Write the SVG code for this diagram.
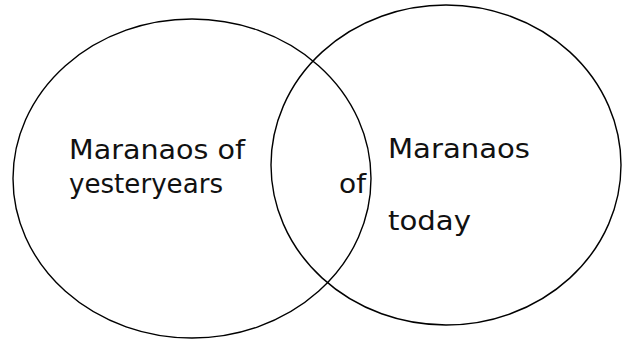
<svg xmlns="http://www.w3.org/2000/svg" width="622" height="339" viewBox="0 0 622 339">
<style>
.set{fill:none;stroke:#000;stroke-width:1.4}
.lbl{font-family:"DejaVu Sans","Liberation Sans",sans-serif;font-size:26px;fill:#111}
</style>
<rect width="622" height="339" fill="#fff"/>
<g id="set-yesteryears">
<ellipse class="set" cx="192" cy="178.5" rx="179" ry="159.5"/>
<text class="lbl" x="69" y="159" textLength="176" lengthAdjust="spacingAndGlyphs">Maranaos of</text>
<text class="lbl" x="69" y="193" textLength="154" lengthAdjust="spacingAndGlyphs">yesteryears</text>
</g>
<g id="set-today">
<ellipse class="set" cx="446" cy="165" rx="175" ry="160"/>
<text class="lbl" x="388" y="158" textLength="142" lengthAdjust="spacingAndGlyphs">Maranaos</text>
<text class="lbl" x="339" y="193" textLength="27" lengthAdjust="spacingAndGlyphs">of</text>
<text class="lbl" x="388" y="230" textLength="83" lengthAdjust="spacingAndGlyphs">today</text>
</g>
</svg>
